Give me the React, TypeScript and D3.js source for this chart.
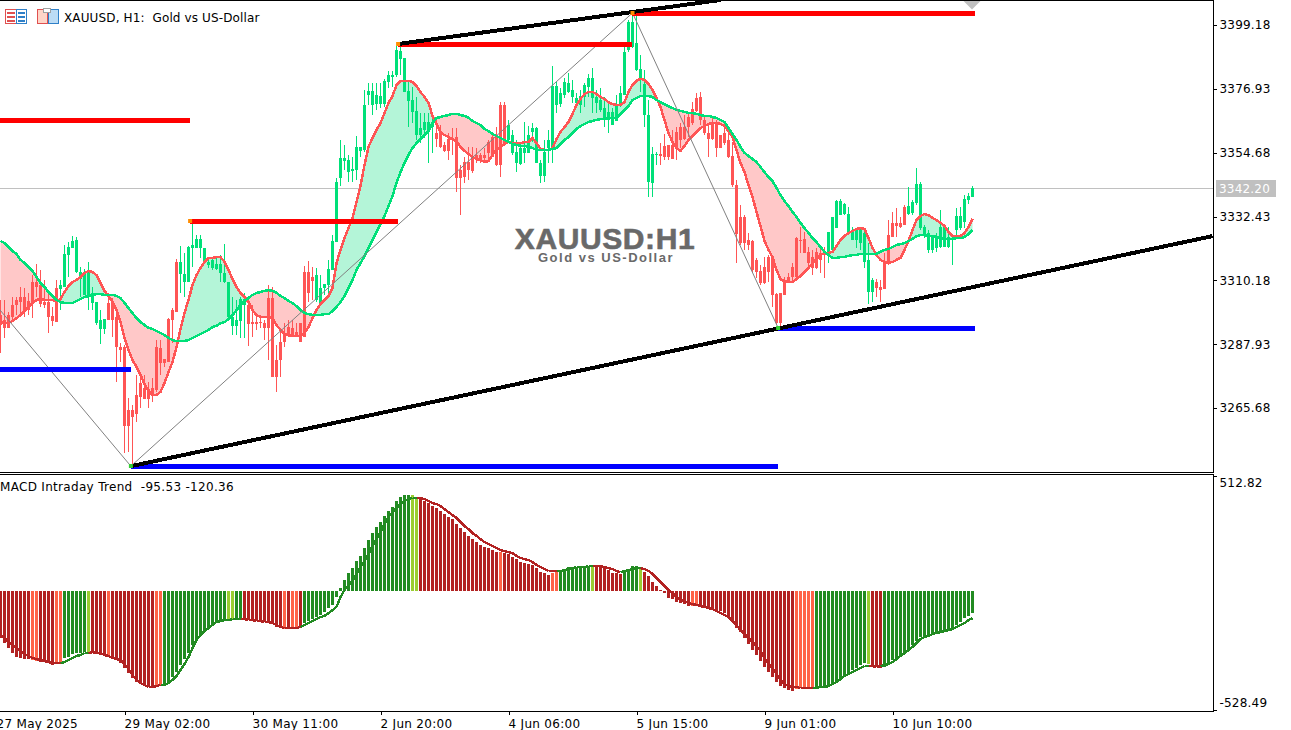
import React, { useEffect, useRef } from "react";
import * as d3 from "d3";

// Hourly bars, left to right. Candles are coloured by trend, so only the body extent is kept.
const highs = [
  3303.3,3303.3,3299.1,3304.4,3304.4,3307.9,3307.5,3305.8,3312.0,3315.9,
  3313.8,3310.3,3305.8,3300.9,3310.3,3310.3,3322.5,3323.5,3325.6,3325.3,
  3314.8,3314.1,3316.6,3307.9,3302.6,3299.8,3296.7,3305.8,3304.0,3300.9,
  3288.3,3287.6,3269.2,3266.7,3277.2,3278.2,3277.2,3274.7,3276.1,3289.4,
  3289.4,3282.8,3297.0,3300.5,3317.6,3322.1,3319.7,3322.1,3330.5,3326.0,
  3326.0,3321.5,3318.3,3318.0,3318.3,3319.0,3322.8,3309.6,3304.4,3303.3,
  3304.4,3305.8,3303.3,3301.6,3298.8,3298.1,3296.4,3308.6,3307.9,3287.6,
  3292.9,3295.3,3296.4,3296.4,3295.3,3295.3,3315.2,3316.9,3314.8,3314.5,
  3312.0,3308.9,3317.3,3326.0,3345.8,3359.1,3357.4,3353.9,3353.2,3360.5,
  3356.7,3376.5,3379.0,3379.0,3379.0,3379.0,3380.3,3383.1,3383.1,3391.9,
  3392.2,3387.7,3379.7,3377.6,3374.1,3368.5,3368.5,3368.5,3367.8,3366.1,
  3364.3,3358.4,3361.5,3363.3,3363.3,3350.4,3353.2,3356.7,3356.7,3356.3,
  3354.6,3356.3,3359.1,3361.5,3363.6,3372.3,3372.3,3366.1,3362.6,3359.1,
  3358.0,3365.4,3364.0,3365.0,3363.6,3352.1,3359.1,3362.6,3384.9,3379.3,
  3377.2,3380.7,3382.4,3380.0,3375.5,3376.5,3379.0,3382.1,3384.2,3376.5,
  3377.2,3374.1,3372.0,3370.2,3374.8,3377.9,3391.5,3400.9,3403.7,3402.7,
  3388.7,3383.5,3373.0,3356.7,3354.9,3358.0,3361.2,3357.4,3362.6,3363.6,
  3365.0,3367.8,3368.5,3372.3,3375.5,3375.8,3367.1,3365.0,3367.1,3366.1,
  3360.8,3365.0,3363.6,3358.4,3345.2,3336.4,3333.0,3326.7,3324.2,3318.0,
  3315.5,3318.3,3319.0,3319.0,3305.8,3305.8,3311.3,3312.7,3316.2,3325.3,
  3328.8,3327.0,3321.8,3320.8,3321.5,3321.5,3321.8,3327.0,3332.3,3338.2,
  3338.5,3337.1,3335.7,3328.8,3328.4,3328.4,3328.4,3323.2,3311.0,3310.6,
  3310.3,3319.7,3331.2,3334.0,3335.4,3332.3,3336.4,3342.7,3338.2,3349.3,
  3344.5,3329.5,3327.7,3326.0,3326.7,3334.7,3329.5,3328.8,3325.3,3335.4,
  3335.7,3339.9,3340.6,3343.1,
];
const lows = [
  3284.8,3290.1,3293.6,3295.6,3298.1,3298.8,3297.4,3298.1,3297.0,3304.4,
  3300.9,3300.5,3291.8,3294.3,3295.6,3299.8,3307.9,3311.3,3321.5,3312.7,
  3304.4,3305.1,3299.8,3299.8,3294.6,3288.0,3291.5,3296.4,3290.4,3274.7,
  3281.7,3250.0,3250.3,3245.4,3260.8,3265.7,3268.8,3265.7,3267.8,3271.3,
  3277.2,3280.0,3281.7,3288.3,3299.1,3305.8,3304.4,3309.6,3314.8,3321.5,
  3318.0,3316.2,3314.5,3313.8,3313.8,3309.6,3309.2,3296.7,3291.1,3291.1,
  3290.1,3290.1,3287.3,3290.4,3292.9,3293.6,3289.4,3282.4,3276.5,3271.3,
  3276.5,3286.9,3290.4,3290.8,3290.4,3288.7,3290.4,3302.6,3303.3,3302.6,
  3302.3,3305.1,3305.8,3313.8,3323.5,3343.1,3348.6,3344.5,3344.5,3345.2,
  3353.2,3354.9,3371.3,3367.8,3369.6,3370.2,3370.6,3377.2,3377.6,3381.1,
  3381.8,3375.8,3363.6,3365.0,3359.1,3358.0,3359.8,3351.1,3354.6,3356.7,
  3356.3,3354.9,3352.1,3353.9,3341.0,3332.9,3344.1,3345.2,3347.6,3351.1,
  3351.1,3351.1,3352.1,3353.2,3350.0,3346.2,3357.7,3358.0,3353.9,3347.9,
  3350.4,3351.1,3354.6,3358.4,3351.1,3344.1,3344.5,3351.1,3351.1,3368.5,
  3370.6,3373.7,3375.5,3372.0,3370.6,3368.5,3370.6,3374.1,3368.5,3368.5,
  3368.9,3363.6,3361.5,3364.3,3365.7,3370.6,3374.8,3389.8,3391.2,3383.1,
  3375.8,3363.6,3339.2,3339.2,3350.4,3350.4,3352.1,3352.1,3352.5,3352.1,
  3356.3,3359.1,3360.1,3364.3,3368.9,3364.3,3360.8,3353.2,3359.1,3353.2,
  3356.3,3357.4,3352.8,3342.7,3316.2,3322.5,3320.8,3320.8,3313.1,3311.0,
  3308.6,3308.9,3309.6,3300.9,3294.6,3293.2,3305.1,3309.2,3309.2,3311.0,
  3319.7,3319.7,3314.5,3312.0,3314.1,3312.7,3311.0,3316.2,3320.8,3328.4,
  3332.9,3332.9,3326.7,3324.2,3321.5,3320.8,3314.5,3301.9,3302.6,3304.4,
  3302.6,3307.2,3315.5,3325.3,3325.3,3328.4,3329.5,3332.9,3332.9,3336.4,
  3327.7,3324.9,3319.7,3319.7,3320.1,3321.5,3321.8,3321.5,3315.5,3324.9,
  3327.7,3328.4,3336.8,3339.2,
];
const bodyUpper = [
  3298.1,3296.4,3298.1,3301.6,3303.3,3304.4,3304.4,3303.0,3309.6,3309.6,
  3308.6,3302.6,3302.6,3297.7,3307.5,3308.6,3319.4,3321.8,3323.9,3324.2,
  3313.1,3312.4,3312.7,3305.8,3302.6,3296.4,3296.7,3302.3,3302.6,3297.4,
  3286.9,3286.9,3265.0,3265.0,3270.2,3274.4,3272.6,3272.3,3272.6,3286.9,
  3286.6,3282.8,3296.7,3299.8,3316.6,3316.6,3312.4,3321.8,3322.5,3324.6,
  3324.6,3321.5,3316.6,3317.3,3315.9,3315.9,3312.7,3309.6,3297.4,3296.4,
  3303.7,3303.7,3301.6,3295.6,3295.6,3295.6,3295.3,3304.0,3304.0,3282.4,
  3288.7,3291.1,3293.9,3293.6,3292.2,3295.3,3313.1,3313.1,3311.3,3312.0,
  3307.5,3308.9,3314.1,3323.9,3344.5,3352.8,3352.8,3352.1,3349.0,3356.7,
  3356.7,3371.3,3376.2,3376.2,3374.8,3374.4,3379.7,3381.8,3381.8,3390.5,
  3390.1,3387.7,3376.2,3373.0,3369.2,3363.3,3365.4,3365.4,3365.4,3361.5,
  3361.5,3357.4,3359.4,3359.8,3360.1,3348.6,3351.4,3351.4,3353.2,3353.9,
  3353.9,3353.9,3358.4,3360.1,3360.1,3371.3,3371.3,3364.3,3360.8,3354.9,
  3356.3,3356.3,3360.8,3363.3,3363.3,3351.1,3354.9,3359.1,3377.9,3377.9,
  3375.5,3379.3,3379.0,3376.5,3373.7,3374.4,3378.3,3380.7,3380.7,3374.1,
  3373.0,3370.2,3368.9,3368.9,3371.3,3375.5,3389.8,3400.2,3400.2,3392.9,
  3383.8,3378.6,3367.8,3354.2,3354.2,3354.2,3357.0,3357.4,3357.4,3361.9,
  3363.6,3363.6,3367.1,3369.9,3373.7,3374.1,3366.1,3361.5,3365.0,3365.0,
  3360.8,3361.5,3359.1,3353.5,3343.4,3332.3,3332.3,3324.2,3323.9,3317.3,
  3313.4,3314.8,3318.3,3318.3,3305.4,3305.8,3310.3,3311.3,3314.8,3324.9,
  3324.2,3324.6,3320.1,3318.3,3320.1,3319.7,3320.1,3327.0,3332.3,3337.8,
  3337.8,3336.8,3333.3,3327.7,3327.7,3328.4,3326.7,3317.3,3310.3,3309.6,
  3307.9,3316.6,3326.0,3330.2,3330.2,3330.2,3335.7,3336.1,3337.5,3343.8,
  3343.8,3328.8,3326.7,3325.3,3325.3,3328.8,3328.8,3325.3,3324.9,3332.6,
  3332.6,3338.5,3339.6,3342.4,
];
const bodyLower = [
  3294.6,3293.6,3293.6,3297.4,3301.6,3302.6,3299.8,3299.8,3302.6,3307.9,
  3301.9,3301.6,3297.4,3296.0,3295.6,3307.2,3307.9,3319.0,3321.5,3313.1,
  3310.6,3305.1,3305.1,3302.3,3295.3,3293.2,3293.2,3296.4,3296.4,3286.9,
  3285.9,3259.4,3259.4,3262.5,3263.6,3269.5,3268.8,3268.8,3270.6,3272.0,
  3281.4,3281.4,3281.7,3296.4,3299.1,3312.4,3309.6,3309.6,3321.5,3321.5,
  3321.5,3316.6,3315.5,3314.5,3314.1,3312.7,3309.6,3297.4,3294.3,3294.3,
  3296.0,3301.6,3294.9,3294.9,3294.9,3295.3,3293.6,3293.6,3276.5,3276.5,
  3282.4,3288.7,3291.1,3291.1,3291.1,3288.7,3290.4,3305.8,3309.9,3303.3,
  3302.3,3307.5,3308.6,3313.8,3323.5,3345.8,3351.8,3347.9,3348.3,3348.6,
  3355.3,3355.6,3374.8,3371.3,3371.6,3371.6,3371.6,3379.3,3381.1,3381.8,
  3387.3,3375.8,3372.7,3368.9,3360.8,3360.8,3362.6,3361.9,3363.6,3359.4,
  3356.7,3355.3,3355.3,3359.1,3345.8,3345.8,3346.2,3348.6,3348.3,3352.8,
  3352.5,3352.8,3354.6,3353.2,3350.4,3350.4,3357.7,3359.1,3354.6,3351.1,
  3350.7,3354.6,3354.6,3361.9,3351.1,3346.6,3346.6,3356.3,3356.3,3371.3,
  3371.6,3374.8,3375.8,3374.1,3372.0,3371.3,3374.1,3377.6,3373.7,3372.0,
  3369.6,3366.8,3366.1,3364.3,3365.7,3371.3,3374.8,3390.5,3391.5,3383.5,
  3380.7,3367.8,3344.5,3344.1,3353.9,3353.5,3353.2,3353.2,3352.5,3356.3,
  3359.1,3359.4,3363.6,3365.0,3369.2,3366.1,3361.5,3359.4,3359.4,3356.3,
  3356.3,3358.0,3353.2,3343.4,3326.3,3323.2,3323.2,3322.5,3313.8,3313.1,
  3309.2,3309.2,3313.1,3305.1,3295.3,3295.3,3305.1,3309.2,3311.3,3311.3,
  3323.9,3319.7,3316.2,3314.5,3314.5,3317.3,3319.0,3319.0,3320.8,3328.4,
  3332.9,3333.3,3327.0,3324.2,3324.2,3323.2,3316.6,3306.1,3306.1,3307.5,
  3306.8,3307.2,3316.6,3325.3,3329.1,3328.8,3329.5,3333.3,3333.6,3337.1,
  3328.4,3326.0,3320.8,3320.8,3321.5,3321.8,3321.8,3321.8,3324.2,3327.7,
  3328.4,3330.5,3338.2,3339.2,
];
const fastMa = [
  3295.6,3295.3,3295.3,3296.0,3297.0,3298.1,3299.5,3300.9,3302.3,3303.3,
  3303.7,3303.3,3303.3,3303.3,3302.6,3303.7,3306.1,3308.2,3309.6,3310.3,
  3311.3,3312.7,3313.4,3313.1,3312.0,3309.2,3306.5,3304.7,3302.6,3299.8,
  3295.6,3290.1,3285.9,3282.4,3280.0,3277.2,3274.0,3271.6,3270.2,3270.2,
  3271.3,3274.4,3278.2,3281.7,3286.9,3293.2,3298.8,3303.3,3308.6,3312.0,
  3314.5,3316.6,3318.0,3318.0,3318.3,3318.3,3316.6,3313.8,3310.6,3307.9,
  3305.8,3304.4,3302.6,3299.8,3298.1,3297.4,3297.4,3297.4,3297.0,3294.6,
  3292.9,3291.5,3291.1,3290.8,3290.8,3290.8,3291.8,3293.9,3297.0,3299.8,
  3301.9,3303.3,3304.7,3307.5,3316.2,3320.8,3324.9,3328.4,3331.9,3337.5,
  3343.1,3350.4,3356.7,3359.8,3362.6,3365.0,3368.5,3372.0,3374.4,3378.3,
  3379.7,3379.7,3379.7,3379.3,3377.9,3375.8,3374.1,3372.0,3367.5,3364.7,
  3361.9,3360.8,3360.1,3359.4,3358.7,3356.7,3355.3,3354.2,3353.2,3352.5,
  3352.1,3351.4,3351.8,3353.9,3355.6,3356.7,3357.7,3358.4,3358.0,3358.0,
  3358.0,3358.4,3358.4,3359.8,3358.0,3356.0,3355.6,3355.6,3356.3,3359.4,
  3361.9,3363.6,3365.4,3368.2,3371.3,3373.4,3375.1,3375.8,3375.8,3375.1,
  3374.1,3373.4,3372.3,3371.6,3371.3,3371.3,3372.3,3375.8,3378.3,3379.7,
  3380.4,3380.0,3378.6,3376.5,3373.7,3370.6,3366.1,3361.5,3358.4,3356.3,
  3355.3,3357.0,3359.1,3360.5,3361.9,3363.3,3364.0,3364.7,3365.0,3365.0,
  3364.7,3364.0,3362.2,3360.1,3355.6,3351.1,3347.9,3343.4,3339.2,3334.0,
  3329.1,3323.9,3320.8,3318.3,3313.8,3310.6,3309.9,3309.6,3309.6,3310.6,
  3311.7,3313.1,3314.5,3316.2,3317.6,3319.0,3319.7,3319.7,3320.1,3322.1,
  3324.2,3325.6,3326.7,3327.4,3328.1,3328.4,3328.1,3324.9,3321.5,3319.0,
  3317.3,3316.6,3316.2,3316.6,3317.3,3318.0,3320.8,3323.9,3327.7,3331.2,
  3332.6,3333.3,3332.9,3331.9,3331.2,3330.2,3329.1,3327.0,3325.6,3325.6,
  3325.6,3326.7,3328.8,3331.6,
];
const slowMa = [
  3323.9,3323.2,3321.8,3320.4,3319.4,3317.3,3316.2,3314.8,3313.4,3311.3,
  3309.2,3307.9,3306.1,3304.7,3303.3,3302.6,3302.3,3302.3,3302.3,3303.0,
  3303.7,3304.4,3304.7,3305.1,3305.4,3305.4,3305.1,3305.1,3305.1,3304.7,
  3304.0,3302.3,3300.5,3298.8,3297.0,3295.6,3294.6,3293.6,3293.2,3292.5,
  3291.8,3291.1,3290.1,3289.4,3289.0,3289.0,3289.0,3289.4,3290.1,3290.8,
  3291.5,3292.2,3292.9,3293.9,3294.3,3295.3,3295.6,3296.7,3298.1,3299.8,
  3301.6,3303.0,3304.0,3305.1,3305.8,3306.1,3306.5,3306.8,3306.5,3305.8,
  3304.7,3304.0,3303.0,3302.3,3301.2,3299.8,3298.8,3298.4,3298.1,3298.1,
  3298.1,3298.4,3298.4,3299.5,3300.9,3302.6,3304.7,3307.5,3310.3,3313.8,
  3316.2,3318.6,3321.4,3324.2,3327.0,3329.8,3332.6,3336.1,3339.6,3344.1,
  3347.9,3351.1,3353.9,3356.3,3358.0,3359.4,3360.8,3362.2,3365.0,3366.8,
  3367.1,3367.5,3367.8,3368.2,3368.2,3367.8,3367.5,3366.8,3365.7,3365.0,
  3364.3,3362.9,3362.2,3361.2,3360.5,3359.8,3359.1,3358.4,3357.7,3357.4,
  3357.0,3357.0,3356.7,3356.3,3355.6,3355.6,3355.6,3355.6,3356.0,3356.3,
  3357.7,3359.1,3360.1,3361.5,3362.9,3364.0,3364.7,3365.4,3365.7,3366.1,
  3366.4,3366.4,3366.8,3366.8,3366.8,3368.2,3369.6,3370.9,3373.0,3373.7,
  3374.4,3374.4,3374.4,3374.1,3373.0,3372.3,3371.6,3370.9,3370.2,3369.6,
  3369.2,3368.9,3368.5,3368.5,3368.2,3367.8,3367.5,3367.5,3367.1,3366.8,
  3366.1,3365.4,3363.3,3361.2,3359.1,3356.7,3354.6,3353.5,3352.5,3351.4,
  3349.7,3347.9,3346.2,3344.8,3342.4,3339.9,3337.8,3336.1,3334.0,3332.3,
  3330.2,3328.4,3326.7,3324.9,3323.5,3321.8,3320.1,3319.0,3318.0,3318.0,
  3318.3,3318.3,3318.7,3319.0,3319.0,3319.4,3319.4,3319.4,3319.4,3319.4,
  3320.1,3320.8,3321.1,3321.8,3322.5,3322.8,3323.2,3323.9,3324.6,3325.6,
  3326.0,3326.0,3325.6,3325.6,3325.3,3324.9,3324.6,3324.6,3324.6,3324.9,
  3324.9,3325.3,3326.3,3327.7,
];
const macdHist = [
  -208,-231,-253,-275,-293,-297,-302,-302,-306,-311,
  -315,-315,-320,-329,-324,-320,-297,-293,-279,-275,
  -275,-271,-271,-271,-279,-284,-288,-288,-297,-302,
  -320,-342,-364,-386,-404,-413,-422,-426,-431,-426,
  -422,-417,-404,-382,-360,-329,-302,-275,-239,-217,
  -195,-182,-164,-150,-137,-128,-128,-124,-124,-124,
  -124,-124,-128,-133,-133,-133,-137,-137,-142,-159,
  -164,-168,-164,-164,-164,-159,-142,-133,-124,-115,
  -106,-93,-75,-61,-26,14,50,81,103,134,
  157,192,228,259,286,308,335,357,375,401,
  419,428,428,428,415,410,401,392,379,370,
  357,344,330,321,299,281,263,246,232,219,
  206,197,192,183,174,174,170,166,152,143,
  130,125,121,117,103,85,81,72,81,85,
  90,99,108,108,108,108,108,112,112,112,
  108,103,94,81,81,76,85,99,112,112,
  103,85,68,41,23,5,-8,-30,-35,-48,
  -53,-57,-66,-66,-66,-66,-66,-75,-79,-84,
  -88,-97,-115,-137,-164,-182,-208,-235,-262,-284,
  -311,-337,-360,-382,-404,-422,-431,-440,-444,-435,
  -431,-431,-431,-431,-431,-426,-426,-422,-413,-404,
  -386,-373,-364,-351,-342,-329,-320,-324,-333,-337,
  -342,-337,-320,-306,-297,-284,-271,-262,-239,-222,
  -204,-199,-195,-190,-186,-182,-177,-168,-164,-150,
  -137,-119,-110,-95.53,
];
const macdSignal = [
  -195,-208,-226,-239,-253,-266,-279,-288,-297,-302,
  -306,-311,-315,-320,-320,-320,-315,-306,-297,-288,
  -284,-275,-275,-271,-275,-275,-284,-288,-297,-302,
  -306,-324,-346,-373,-395,-408,-417,-426,-426,-422,
  -417,-417,-408,-395,-377,-351,-324,-293,-253,-217,
  -195,-177,-164,-150,-137,-133,-128,-128,-124,-124,
  -124,-124,-128,-128,-133,-133,-137,-137,-142,-150,
  -159,-164,-164,-164,-164,-159,-150,-142,-133,-124,
  -115,-110,-97,-84,-70,-26,5,28,45,77,
  108,134,166,201,232,263,299,330,352,370,
  388,401,410,415,415,415,410,401,392,388,
  379,366,352,339,326,308,290,277,259,246,
  232,219,210,201,192,183,179,174,170,157,
  148,143,139,130,117,108,99,90,90,90,
  90,94,99,103,108,108,108,112,112,112,
  112,108,103,99,90,85,90,94,99,103,
  103,99,90,77,59,41,23,5,-8,-26,
  -39,-44,-53,-57,-61,-66,-70,-75,-79,-88,
  -97,-106,-115,-133,-150,-173,-190,-208,-226,-244,
  -266,-297,-320,-342,-368,-395,-413,-422,-426,-426,
  -431,-431,-431,-431,-431,-426,-426,-422,-413,-404,
  -391,-377,-368,-360,-351,-342,-333,-333,-333,-337,
  -333,-329,-324,-315,-302,-288,-275,-262,-248,-231,
  -213,-204,-199,-190,-186,-182,-177,-173,-168,-159,
  -150,-142,-128,-120.36,
];
// run lengths of the histogram colour state
const histStateRuns: [string, number][] = [
  ["down",8],["downSoft",2],["down",4],["downSoft",2],["up",6],["upSoft",1],["down",4],["downSoft",1],
  ["down",11],["downSoft",2],["up",16],["upSoft",2],["up",2],["down",10],["downSoft",1],["down",1],
  ["downSoft",2],["down",1],["up",27],["upSoft",2],["down",20],["downSoft",1],["down",12],["downSoft",2],
  ["up",8],["upSoft",1],["down",7],["up",4],["upSoft",1],["down",12],["downSoft",2],["down",24],
  ["downSoft",5],["up",13],["upSoft",1],["down",3],["up",23],
];

const priceTicks = [3399.18, 3376.93, 3354.68, 3332.43, 3310.18, 3287.93, 3265.68];
const macdTicks = [512.82, -528.49];
const timeTickBars = [-1, 31, 63, 95, 127, 159, 191, 223];
const timeLabels = ["27 May 2025", "29 May 02:00", "30 May 11:00", "2 Jun 20:00", "4 Jun 06:00", "5 Jun 15:00", "9 Jun 01:00", "10 Jun 10:00"];
const lastPrice = 3342.2;

// horizontal levels: [start bar, end bar, price]
const resistanceLevels = [[-0.2, 47.4, 3365.9], [47.4, 99.4, 3331.0], [99.4, 157.9, 3392.4], [157.9, 243.6, 3403.5]];
const supportLevels = [[-0.2, 32.6, 3279.1], [32.6, 194.4, 3245.3], [194.4, 243.6, 3293.4]];
const zigzagBars = [-0.1, 32.6, 158, 194.4];
const zigzagPrices = [3299.8, 3245.4, 3403.4, 3293.6];
const trendLines = [[32.6, 3245.4, 303, 3325.6], [99.7, 3392.6, 180, 3407.9]];
const pivotHighs = [[47.4, 3331.0], [99.4, 3392.4], [158, 3403.5]];
const pivotLows = [[32.6, 3245.3], [194.4, 3293.4]];

const histColors: Record<string, string> = { up: "#228b22", upSoft: "#9acd32", down: "#b22222", downSoft: "#ff6347" };
const FONT = "'DejaVu Sans', sans-serif";

const App: React.FC = () => {
  const svgRef = useRef<SVGSVGElement>(null);

  useEffect(() => {
    if (!svgRef.current) return;
    const svg = d3.select(svgRef.current);
    svg.selectAll("*").remove();

    const width = 1291;
    const height = 730;
    const plotRight = 1213;
    const states = histStateRuns.flatMap(([s, n]) => d3.range(n).map(() => s));

    const x = d3.scaleLinear().domain([0, 243]).range([0.5, 972.5]);
    const y = d3.scaleLinear().domain([3399.18, 3265.68]).range([25, 408]);
    const my = d3.scaleLinear().domain([512.82, -528.49]).range([476, 710]);

    svg.append("rect").attr("width", width).attr("height", height).attr("fill", "#fff");
    const defs = svg.append("defs");
    defs.append("clipPath").attr("id", "main-clip").append("rect").attr("x", 0).attr("y", 1).attr("width", plotRight).attr("height", 471);
    defs.append("clipPath").attr("id", "macd-clip").append("rect").attr("x", 0).attr("y", 475).attr("width", plotRight).attr("height", 236);

    const main = svg.append("g").attr("clip-path", "url(#main-clip)");
    const macd = svg.append("g").attr("clip-path", "url(#macd-clip)");

    // bid line
    main.append("line").attr("x1", 0).attr("x2", plotRight)
      .attr("y1", Math.round(y(lastPrice)) + 0.5).attr("y2", Math.round(y(lastPrice)) + 0.5)
      .attr("stroke", "#c0c0c0").attr("stroke-width", 1);

    // cloud between the averages
    const bars = d3.range(fastMa.length);
    const cloud = (upper: boolean) =>
      d3.area<number>()
        .x((i) => x(i))
        .y0((i) => y(upper ? slowMa[i] : fastMa[i]))
        .y1((i) => y(Math.max(fastMa[i], slowMa[i])));
    main.append("path").attr("d", cloud(false)(bars)).attr("fill", "#ffc8c8");
    main.append("path").attr("d", cloud(true)(bars)).attr("fill", "#b4f5d8");

    // candles, coloured by the trend of the averages
    const candleColor = (i: number) => (fastMa[i] >= slowMa[i] ? "#00e079" : "#ff5555");
    const candles = main.append("g").attr("shape-rendering", "crispEdges");
    candles.selectAll(".wick").data(bars).enter().append("rect")
      .attr("x", (i) => x(i) - 0.5).attr("width", 1)
      .attr("y", (i) => y(highs[i])).attr("height", (i) => Math.max(1, y(lows[i]) - y(highs[i])))
      .attr("fill", candleColor);
    candles.selectAll(".body").data(bars).enter().append("rect")
      .attr("x", (i) => x(i) - 1.5).attr("width", 3)
      .attr("y", (i) => y(bodyUpper[i])).attr("height", (i) => Math.max(1, y(bodyLower[i]) - y(bodyUpper[i])))
      .attr("fill", candleColor);

    // moving averages
    const priceLine = (values: number[]) => d3.line<number>().x((i) => x(i)).y((i) => y(values[i]))(bars);
    main.append("path").attr("d", priceLine(fastMa)).attr("fill", "none").attr("stroke", "#ff5555").attr("stroke-width", 2.5).attr("shape-rendering", "crispEdges");
    main.append("path").attr("d", priceLine(slowMa)).attr("fill", "none").attr("stroke", "#00e079").attr("stroke-width", 2.5).attr("shape-rendering", "crispEdges");

    // zigzag
    main.append("path")
      .attr("d", d3.line<number>().x((b) => x(b)).y((_, i) => y(zigzagPrices[i]))(zigzagBars))
      .attr("fill", "none").attr("stroke", "#808080").attr("stroke-width", 1);

    // support and resistance levels
    const levels = main.append("g").attr("shape-rendering", "crispEdges");
    const drawLevels = (data: number[][], color: string) =>
      levels.selectAll(`.lvl-${color.slice(1)}`).data(data).enter().append("rect")
        .attr("x", (d) => x(d[0])).attr("width", (d) => x(d[1]) - x(d[0]))
        .attr("y", (d) => Math.round(y(d[2])) - 2).attr("height", 5)
        .attr("fill", color);
    drawLevels(resistanceLevels, "#ff0000");
    drawLevels(supportLevels, "#0000ff");

    // trend lines
    main.selectAll(".trend").data(trendLines).enter().append("line")
      .attr("x1", (d) => x(d[0])).attr("y1", (d) => y(d[1]))
      .attr("x2", (d) => x(d[2])).attr("y2", (d) => y(d[3]))
      .attr("stroke", "#000").attr("stroke-width", 4).attr("shape-rendering", "crispEdges");

    // pivot markers
    const marker = (data: number[][], color: string) =>
      main.append("g").selectAll("rect").data(data).enter().append("rect")
        .attr("x", (d) => x(d[0]) - 2).attr("y", (d) => Math.round(y(d[1])) - 2)
        .attr("width", 4).attr("height", 4).attr("fill", color);
    marker(pivotHighs, "#ff8c00");
    marker(pivotLows, "#32cd32");

    // chart shift marker
    main.append("path").attr("d", "M963.5,1 L980.5,1 L972,9.5 Z").attr("fill", "#c0c0c0");

    // MACD histogram
    macd.append("g").attr("shape-rendering", "crispEdges")
      .selectAll("rect").data(bars).enter().append("rect")
      .attr("x", (i) => x(i) - 1.5).attr("width", 3)
      .attr("y", (i) => Math.min(my(0), my(macdHist[i])))
      .attr("height", (i) => Math.abs(my(macdHist[i]) - my(0)))
      .attr("fill", (i) => histColors[states[i]]);

    // MACD signal, coloured bar by bar
    const signalLine = d3.line<number>().x((i) => x(i)).y((i) => my(macdSignal[i]));
    macd.append("g").attr("shape-rendering", "crispEdges")
      .selectAll("path").data(bars.slice(1)).enter().append("path")
      .attr("d", (i) => signalLine([i - 1, i]))
      .attr("fill", "none").attr("stroke-width", 2.4)
      .attr("stroke", (i) => (states[i].startsWith("up") ? "#228b22" : "#b22222"));

    // frame
    const frame = svg.append("g").attr("stroke", "#000").attr("stroke-width", 1).attr("shape-rendering", "crispEdges");
    [0.5, 472.5, 474.5, 711.5].forEach((v) => frame.append("line").attr("x1", 0).attr("x2", plotRight + 0.5).attr("y1", v).attr("y2", v));
    frame.append("line").attr("x1", plotRight + 0.5).attr("x2", plotRight + 0.5).attr("y1", 0).attr("y2", 472);
    frame.append("line").attr("x1", plotRight + 0.5).attr("x2", plotRight + 0.5).attr("y1", 474).attr("y2", 711);

    // axes
    const styleAxis = (g: d3.Selection<SVGGElement, unknown, null, undefined>) => {
      g.select(".domain").remove();
      g.selectAll("line").attr("stroke", "#000").attr("shape-rendering", "crispEdges");
      g.selectAll("text").attr("fill", "#000").style("font-family", FONT).style("font-size", "12px").attr("letter-spacing", "0.2");
    };
    svg.append("g").attr("transform", `translate(${plotRight + 0.5},0)`)
      .call(d3.axisRight(y).tickValues(priceTicks).tickFormat((d) => (+d).toFixed(2)).tickSize(3).tickPadding(3))
      .call(styleAxis);
    const macdAxis = svg.append("g").attr("transform", `translate(${plotRight + 0.5},0)`)
      .call(d3.axisRight(my).tickValues(macdTicks).tickFormat((d) => (+d).toFixed(2)).tickSize(3).tickPadding(3))
      .call(styleAxis);
    macdAxis.selectAll("text").attr("y", (d) => ((d as number) > 0 ? 7 : -7));
    svg.append("g").attr("transform", "translate(0,711)")
      .call(d3.axisBottom(x).tickValues(timeTickBars).tickFormat((_, i) => timeLabels[i]).tickSize(4).tickPadding(4))
      .call(styleAxis)
      .selectAll("text").attr("text-anchor", "start").attr("dx", "-0.5").attr("letter-spacing", "0.3");

    // last price tag
    svg.append("rect").attr("x", 1216).attr("y", 180).attr("width", 60).attr("height", 17).attr("fill", "#c0c0c0");
    svg.append("text").attr("x", 1219).attr("y", 193).attr("fill", "#fff")
      .style("font-family", FONT).style("font-size", "12px").attr("letter-spacing", "0.2").text(lastPrice.toFixed(2));

    // header text
    svg.append("text").attr("x", 64).attr("y", 21.5).attr("fill", "#000").attr("letter-spacing", "0.13")
      .style("white-space", "pre").style("font-family", FONT).style("font-size", "12px")
      .text("XAUUSD, H1:  Gold vs US-Dollar");
    svg.append("text").attr("x", 0).attr("y", 491).attr("fill", "#000").attr("letter-spacing", "0.31")
      .style("white-space", "pre").style("font-family", FONT).style("font-size", "12px")
      .text(`MACD Intraday Trend  ${macdHist[243].toFixed(2)} ${macdSignal[243].toFixed(2)}`);

    // watermark
    svg.append("text").attr("x", 605).attr("y", 249).attr("text-anchor", "middle").attr("fill", "#696969")
      .attr("stroke", "#696969").attr("stroke-width", 0.6)
      .style("font-family", "'Liberation Sans', sans-serif").style("font-weight", 700).style("font-size", "30px").attr("letter-spacing", "0.6")
      .text("XAUUSD:H1");
    svg.append("text").attr("x", 606).attr("y", 262).attr("text-anchor", "middle").attr("fill", "#696969")
      .style("font-family", "'Liberation Sans', sans-serif").style("font-weight", 700).style("font-size", "13px").attr("letter-spacing", "1.5")
      .text("Gold vs US-Dollar");

    // toolbar icons
    const icons = svg.append("g").attr("shape-rendering", "crispEdges");
    const box = (bx: number, by: number, w: number, h: number, fill: string, stroke = "none") =>
      icons.append("rect").attr("x", bx).attr("y", by).attr("width", w).attr("height", h).attr("fill", fill).attr("stroke", stroke);
    box(5.5, 9.5, 11, 14, "#fff", "#e05050");
    box(16.5, 9.5, 10, 14, "#fff", "#2f80c8");
    [12, 16, 20].forEach((ry) => { box(7, ry, 8, 2, "#e05050"); box(18, ry, 7, 2, "#2f80c8"); });
    box(37.5, 9.5, 10, 14, "#ffd5c8", "#e05050");
    box(48.5, 9.5, 10, 14, "#bcdcf5", "#2f80c8");
    box(43.5, 8.5, 7, 4, "#fff", "#a0a0a0");
  }, []);

  return (
    <div style={{ position: "absolute", left: 0, top: 0, width: 1291, height: 730, overflow: "hidden" }}>
      <svg ref={svgRef} width={1291} height={730} style={{ display: "block" }}></svg>
    </div>
  );
};

export default App;
